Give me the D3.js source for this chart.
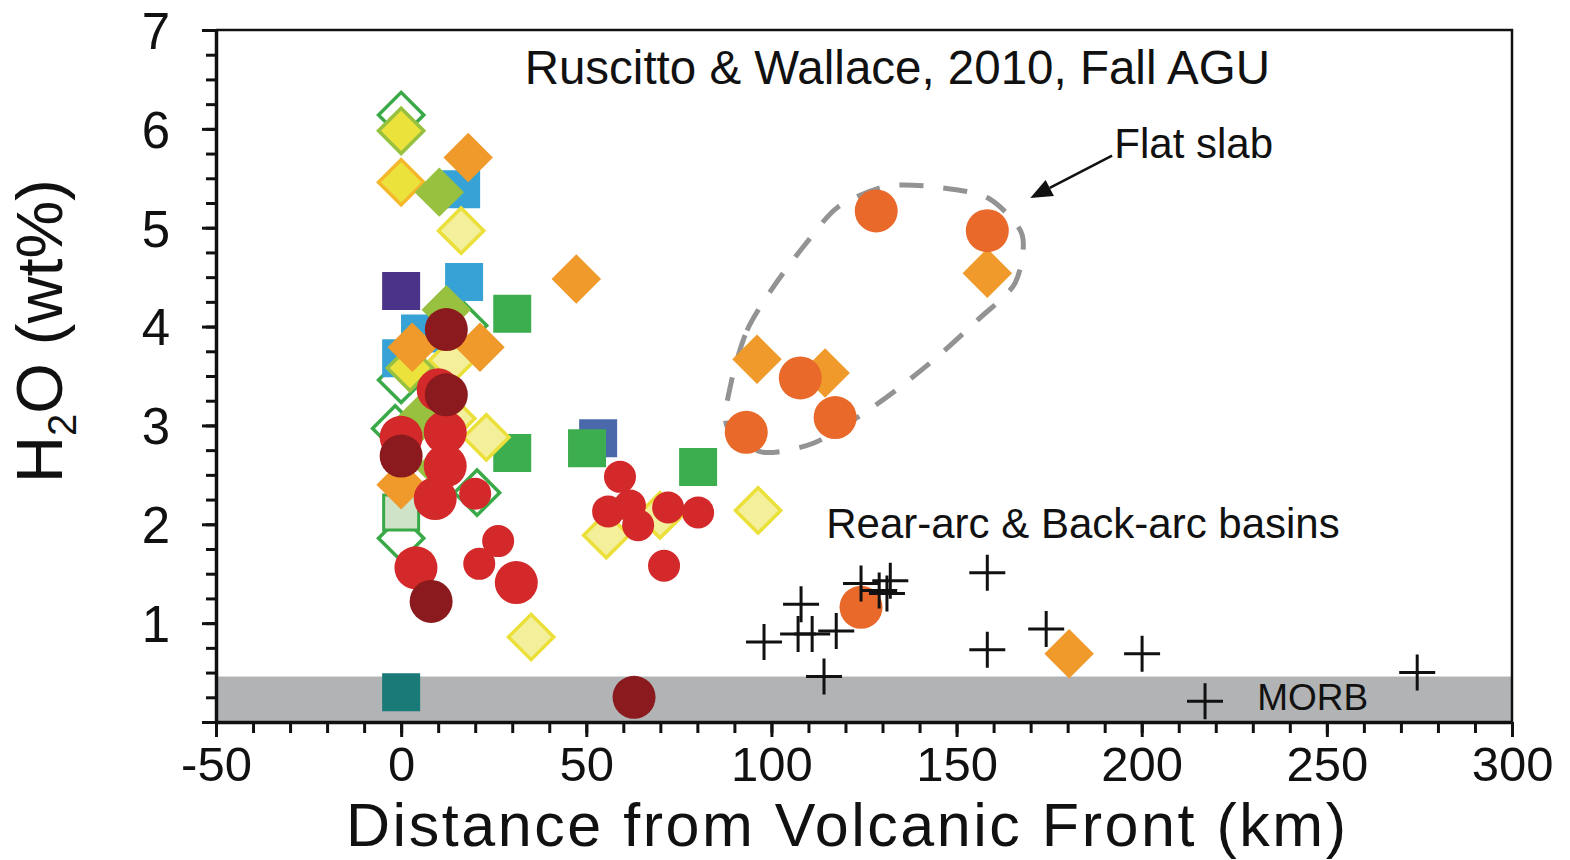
<!DOCTYPE html>
<html>
<head>
<meta charset="utf-8">
<script src="https://cdn.jsdelivr.net/npm/d3@7"></script>
<style>
    body { margin: 0; background: #fff; }
    text { font-family: "Liberation Sans", Arial, Helvetica, sans-serif; fill: #111; }
</style>
</head>
<body>
<div id="wrapper"></div>
<script>
// distance from volcanic front (km), H2O (wt%)
const openGreenDiamonds = [[0, 6.14], [0, 3.46], [-1.6, 2.97], [20.5, 2.32], [0, 1.86], [17, 4.01]];
const paleGreenSquares = [[0, 2.12]];
const blueSquares = [[16.2, 5.39], [17, 4.45], [5.1, 3.93], [0, 3.68]];
const purpleSquares = [[0, 4.36]];
const tealSquares = [[0, 0.30]];
const navySquares = [[53.2, 2.87]];
const greenSquares = [[30, 4.13], [30, 2.72], [50.2, 2.77], [80.2, 2.58]];
const paleYellowDiamonds = [[16.2, 4.97], [13.8, 3.66], [13.8, 3.07], [23, 2.88], [35.1, 0.86], [55.4, 1.89], [69.9, 2.09], [96.4, 2.14]];
const yellowDiamondsLime = [[0, 5.98], [2.4, 3.58]];
const yellowDiamondsGold = [[0, 5.46]];
const limeDiamonds = [[10.3, 5.36], [12.2, 4.17], [4.6, 3.05], [10.5, 2.57]];
const orangeDiamonds = [[18.1, 5.71], [47.3, 4.48], [3, 3.79], [21.3, 3.79], [0, 2.40], [96.1, 3.67], [114.5, 3.53], [158.3, 4.54], [180.4, 0.69]];
const redCirclesBig = [[10, 3.36], [11.9, 2.93], [0, 2.88], [11.9, 2.59], [9.2, 2.26], [4, 1.56], [31.1, 1.41]];
const redCirclesSmall = [[20, 2.31], [26.2, 1.83], [21.1, 1.60], [59.1, 2.48], [55.9, 2.13], [61.8, 2.19], [64, 1.99], [72.1, 2.17], [80.2, 2.12], [71, 1.58]];
const darkRedCircles = [[12.2, 3.97], [12.2, 3.31], [0, 2.69], [8.1, 1.22], [62.9, 0.25]];
const orangeCircles = [[128.3, 5.17], [158.3, 4.97], [107.8, 3.48], [117.2, 3.08], [93.2, 2.93], [124.2, 1.16]];
const backArcCrosses = [[98, 0.81], [108, 1.19], [107.2, 0.89], [111, 0.89], [117.5, 0.92], [114.2, 0.46], [124.2, 1.40], [129.1, 1.33], [131.2, 1.30], [132.1, 1.43], [158.3, 1.51], [158.3, 0.73], [174.2, 0.94], [200.1, 0.69], [217.1, 0.21], [274.4, 0.50]];

// flat slab outline (km, wt%)
const flatSlabOutline = [[89.1, 3.43], [93.4, 3.96], [100.5, 4.40], [109.1, 4.83], [118.0, 5.21], [131.2, 5.42], [144.7, 5.41], [158.5, 5.30], [167.7, 4.93], [165.8, 4.44], [155.8, 4.07], [145.6, 3.72], [134.8, 3.39], [124.8, 3.12], [111.3, 2.82], [97.5, 2.73], [88.0, 2.99]];
const morbTop = 0.46;

const xTicksMajor = [-50, 0, 50, 100, 150, 200, 250, 300];
const yTicksMajor = [0, 1, 2, 3, 4, 5, 6, 7];

let wSvg = 1570;
let hSvg = 860;
let mLeft = 216, mRight = 1512, mTop = 30, mBottom = 722;

let svg = d3.select("#wrapper")
    .append("svg")
    .attr("width", wSvg)
    .attr("height", hSvg);

svg.append("rect").attr("width", wSvg).attr("height", hSvg).attr("fill", "#fff");

let x = d3.scaleLinear().domain([-50, 300]).range([mLeft, mRight]);
let y = d3.scaleLinear().domain([0, 7]).range([mBottom, mTop]);

// MORB band
svg.append("rect")
    .attr("x", x(-50))
    .attr("y", y(morbTop))
    .attr("width", x(300) - x(-50))
    .attr("height", y(0) - y(morbTop))
    .attr("fill", "#b1b3b5");

// flat slab dashed outline
svg.append("path")
    .datum(flatSlabOutline)
    .attr("d", d3.line().x(d => x(d[0])).y(d => y(d[1])).curve(d3.curveCardinalClosed.tension(0.2)))
    .attr("fill", "none")
    .attr("stroke", "#939393")
    .attr("stroke-width", 5)
    .attr("stroke-dasharray", "24 20");

// symbol shapes
const squarePath = d3.symbol().type(d3.symbolSquare).size(38 * 38)();
const diamondPath = d3.symbol().type(d3.symbolSquare).size(35 * 35)();
const diamondEdgePath = d3.symbol().type(d3.symbolSquare).size(32 * 32)();
const crossPath = "M-18,0H18M0,-18V18";

const layers = [
    { data: openGreenDiamonds, shape: "diamondEdge", fill: "#fff", stroke: "#3aaa48" },
    { data: paleGreenSquares, shape: "squareEdge", fill: "#cfe3c9", stroke: "#3aaa48" },
    { data: blueSquares, shape: "square", fill: "#36a2d6" },
    { data: purpleSquares, shape: "square", fill: "#4a3388" },
    { data: tealSquares, shape: "square", fill: "#1a7a78" },
    { data: navySquares, shape: "square", fill: "#4a69ab" },
    { data: greenSquares, shape: "square", fill: "#3dae4f" },
    { data: paleYellowDiamonds, shape: "diamondEdge", fill: "#f4ef9a", stroke: "#ebe03a" },
    { data: yellowDiamondsLime, shape: "diamondEdge", fill: "#ebe23c", stroke: "#97c13f" },
    { data: yellowDiamondsGold, shape: "diamondEdge", fill: "#ebe23c", stroke: "#f5b82a" },
    { data: limeDiamonds, shape: "diamond", fill: "#97c13f" },
    { data: orangeDiamonds, shape: "diamond", fill: "#ef9a2b" },
    { data: redCirclesBig, shape: "circle", r: 21.5, fill: "#d3292a" },
    { data: redCirclesSmall, shape: "circle", r: 16, fill: "#d3292a" },
    { data: darkRedCircles, shape: "circle", r: 21.5, fill: "#8a1a1d" },
    { data: orangeCircles, shape: "circle", r: 21.5, fill: "#e8692a" },
    { data: backArcCrosses, shape: "cross", stroke: "#111" }
];

layers.forEach(layer => {
    let g = svg.append("g");
    if (layer.shape === "circle") {
        g.selectAll("circle")
            .data(layer.data)
            .enter()
            .append("circle")
            .attr("cx", d => x(d[0]))
            .attr("cy", d => y(d[1]))
            .attr("r", layer.r)
            .attr("fill", layer.fill);
    } else {
        let path = squarePath, rot = 0, sw = 0;
        if (layer.shape === "diamond") { path = diamondPath; rot = 45; }
        if (layer.shape === "diamondEdge") { path = diamondEdgePath; rot = 45; sw = 3.5; }
        if (layer.shape === "squareEdge") { path = d3.symbol().type(d3.symbolSquare).size(35 * 35)(); sw = 3; }
        if (layer.shape === "cross") { path = crossPath; sw = 3; }
        g.selectAll("path")
            .data(layer.data)
            .enter()
            .append("path")
            .attr("d", path)
            .attr("transform", d => `translate(${x(d[0])},${y(d[1])}) rotate(${rot})`)
            .attr("fill", layer.fill || "none")
            .attr("stroke", layer.stroke || "none")
            .attr("stroke-width", sw);
    }
});

// frame top and right
svg.append("path")
    .attr("d", `M${x(-50)},${y(7)}H${x(300)}V${y(0)}`)
    .attr("fill", "none")
    .attr("stroke", "#111")
    .attr("stroke-width", 2.5);

// axes
let xMinor = d3.range(-50, 301, 10);
let yMinor = d3.range(0, 7.01, 0.25);
// plain hyphen for negatives, no label at zero on the y axis
let xFmt = d => String(d);
let yFmt = d => d === 0 ? "" : String(d);

let xAxisMinor = svg.append("g")
    .attr("transform", `translate(0,${mBottom})`)
    .call(d3.axisBottom(x).tickValues(xMinor).tickSize(11).tickFormat(""));
let xAxis = svg.append("g")
    .attr("transform", `translate(0,${mBottom})`)
    .call(d3.axisBottom(x).tickValues(xTicksMajor).tickSize(15).tickSizeOuter(0).tickFormat(xFmt));
let yAxisMinor = svg.append("g")
    .attr("transform", `translate(${mLeft},0)`)
    .call(d3.axisLeft(y).tickValues(yMinor).tickSize(10).tickFormat(""));
let yAxis = svg.append("g")
    .attr("transform", `translate(${mLeft},0)`)
    .call(d3.axisLeft(y).tickValues(yTicksMajor).tickSize(14).tickSizeOuter(0).tickFormat(yFmt));

svg.selectAll(".domain").attr("stroke", "#111").attr("stroke-width", 3.5);
svg.selectAll(".tick line").attr("stroke", "#111").attr("stroke-width", 3);
xAxisMinor.select(".domain").remove();
yAxisMinor.select(".domain").remove();

xAxis.selectAll(".tick text")
    .attr("y", 59)
    .attr("dy", 0)
    .style("font-size", "49px")
    .attr("fill", "#111");
yAxis.selectAll(".tick text")
    .attr("x", -46)
    .attr("dy", "0.36em")
    .style("font-size", "51px")
    .attr("fill", "#111");

// axis titles
svg.append("text")
    .attr("x", 846)
    .attr("y", 846)
    .attr("text-anchor", "middle")
    .attr("textLength", 1000)
    .attr("lengthAdjust", "spacing")
    .style("font-size", "61px")
    .text("Distance from Volcanic Front (km)");

let yTitle = svg.append("text")
    .attr("transform", "translate(62,331) rotate(-90)")
    .attr("text-anchor", "middle")
    .style("font-size", "65px");
yTitle.append("tspan").text("H");
yTitle.append("tspan").attr("dy", 14).style("font-size", "40px").text("2");
yTitle.append("tspan").attr("dy", -14).text("O (wt%)");

// annotations
svg.append("text")
    .attr("x", x(134))
    .attr("y", y(6.45))
    .attr("text-anchor", "middle")
    .style("font-size", "47.5px")
    .text("Ruscitto & Wallace, 2010, Fall AGU");

svg.append("text")
    .attr("x", x(192.6))
    .attr("y", y(5.71))
    .style("font-size", "42px")
    .text("Flat slab");

svg.append("text")
    .attr("x", x(114.8))
    .attr("y", y(1.86))
    .style("font-size", "42px")
    .text("Rear-arc & Back-arc basins");

svg.append("text")
    .attr("x", x(231.2))
    .attr("y", y(0.12))
    .style("font-size", "37px")
    .text("MORB");

// arrow to flat slab
let a0 = [x(192), y(5.73)], a1 = [x(169.9), y(5.30)];
let ang = Math.atan2(a1[1] - a0[1], a1[0] - a0[0]);
let headLen = 22, headW = 9;
let base = [a1[0] - headLen * Math.cos(ang), a1[1] - headLen * Math.sin(ang)];
svg.append("line")
    .attr("x1", a0[0]).attr("y1", a0[1])
    .attr("x2", base[0]).attr("y2", base[1])
    .attr("stroke", "#111")
    .attr("stroke-width", 2.5);
svg.append("path")
    .attr("d", `M${a1[0]},${a1[1]}L${base[0] - headW * Math.sin(ang)},${base[1] + headW * Math.cos(ang)}L${base[0] + headW * Math.sin(ang)},${base[1] - headW * Math.cos(ang)}Z`)
    .attr("fill", "#111");
</script>
</body>
</html>
